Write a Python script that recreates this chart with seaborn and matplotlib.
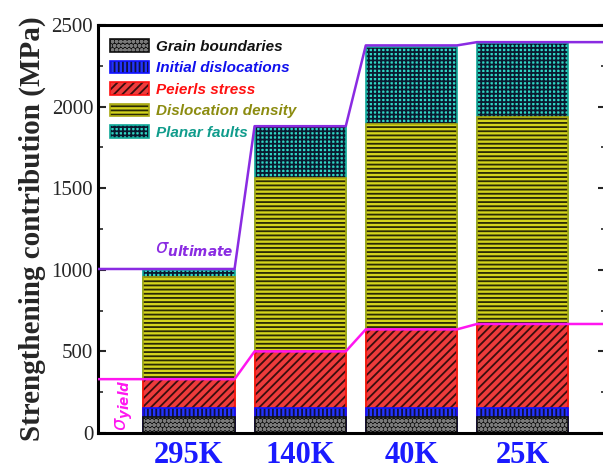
import numpy as np
import matplotlib
matplotlib.use("Agg")
import matplotlib.pyplot as plt
import matplotlib.patches as mpatches
import seaborn as sns

temps = ["295K", "140K", "40K", "25K"]
grain_boundaries = [100, 100, 100, 100]
initial_dislocations = [55, 55, 55, 55]
peierls_stress = [175, 345, 480, 513]
dislocation_density = [625, 1062, 1260, 1267]
planar_faults = [45, 320, 470, 455]
sigma_yield = [330, 500, 635, 668]
sigma_ultimate = [1005, 1880, 2375, 2395]
layer_names = ["Grain boundaries", "Initial dislocations", "Peierls stress",
               "Dislocation density", "Planar faults"]

sns.set_style("ticks")
plt.rcParams["hatch.linewidth"] = 1.3
plt.rcParams["font.family"] = ["Liberation Serif", "DejaVu Serif"]
plt.rcParams["mathtext.fontset"] = "dejavusans"

fig = plt.figure(figsize=(6.03, 4.70), dpi=100)
ax = fig.add_axes([98/603, 37/470, 508/603, 408/470])

layers = [grain_boundaries, initial_dislocations, peierls_stress,
          dislocation_density, planar_faults]
cum = np.cumsum(np.array(layers, dtype=float), axis=0)

faces = ["#0e0e0e", "#2233ff", "#ee3b3b", "#d4d41c", "#2fd6c4"]
hatch_cols = ["#7a7a7a", "#101040", "#3a0e0e", "#2a2a05", "#0a1a30"]
hatches = ["oooo", "||||", "////", "----", "++++"]
borders = ["#111111", "#1010ff", "#ff1010", "#a8a810", "#10a898"]
text_cols = ["#111111", "#1010ee", "#ff1010", "#8c8c10", "#109c8c"]
width = 0.82

for k in range(4, -1, -1):
    sns.barplot(x=temps, y=cum[k], color=faces[k], saturation=1, width=width,
                hatch=hatches[k], edgecolor=hatch_cols[k], linewidth=0, ax=ax)
    sns.barplot(x=temps, y=cum[k], color=borders[k], fill=False, width=width,
                linewidth=1.2, ax=ax)

xmin, xmax = -0.818, 3.75
edges = []
for i in range(len(temps)):
    edges += [i - width / 2, i + width / 2]
xs = [xmin] + edges[1:-1] + [xmax]
def steps(vals):
    ys = []
    for v in vals:
        ys += [v, v]
    return ys
ax.plot(xs, steps(sigma_yield), color="#ff16f0", lw=1.8, zorder=5, clip_on=True)
ax.plot(xs, steps(sigma_ultimate), color="#8a2be2", lw=1.8, zorder=5, clip_on=True)

ax.text(0.05, 1120, r"$\sigma_{\mathbfit{ultimate}}$", color="#8a2be2", fontsize=14,
        ha="center", va="center")
ax.text(-0.585, 172, r"$\sigma_{\mathbfit{yield}}$", color="#ff16f0", fontsize=14,
        rotation=90, ha="center", va="center")

ax.set_xlim(xmin, xmax)
ax.set_ylim(0, 2500)
ax.set_yticks([0, 500, 1000, 1500, 2000, 2500])
ax.set_yticks(np.arange(250, 2500, 500), minor=True)
ax.tick_params(axis="y", which="major", direction="in", length=6, width=1.5,
               labelsize=15, left=True, right=True)
ax.tick_params(axis="y", which="minor", direction="in", length=3.5, width=1.2,
               left=True, right=True)
ax.tick_params(axis="x", length=0, labelsize=22, pad=6)
for lab in ax.get_xticklabels():
    lab.set_fontweight("bold")
    lab.set_color("#1a1aff")
ax.set_ylabel("Strengthening contribution (MPa)", fontsize=21, fontweight="bold",
              labelpad=4)
for s in ax.spines.values():
    s.set_linewidth(2.2)
    s.set_color("black")

handles = []
for k in range(5):
    p1 = mpatches.Patch(facecolor=faces[k], hatch=hatches[k],
                        edgecolor=hatch_cols[k], linewidth=0)
    p2 = mpatches.Patch(facecolor="none", edgecolor=borders[k], linewidth=1.2)
    handles.append((p1, p2))
leg = ax.legend(handles, layer_names, loc="upper left", bbox_to_anchor=(0.005, 0.988),
                frameon=False, handlelength=2.6, handleheight=0.9, handletextpad=0.45,
                labelspacing=0.45, borderaxespad=0.2,
                prop={"family": "Liberation Sans", "weight": "bold", "style": "italic",
                      "size": 11})
for t, c in zip(leg.get_texts(), text_cols):
    t.set_color(c)

fig.savefig("out.png", dpi=100)
